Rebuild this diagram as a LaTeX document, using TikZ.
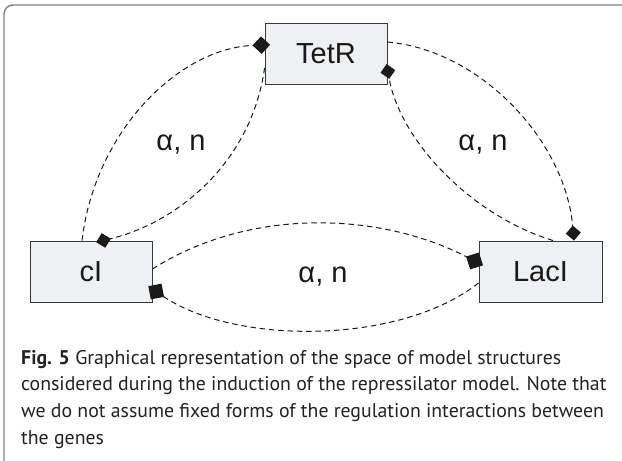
\documentclass[tikz,border=0pt]{standalone}
\usepackage{fontspec}
\setmainfont{Liberation Sans}
\newfontfamily\capfont{PT Sans}
\usetikzlibrary{arrows.meta}
\definecolor{boxfill}{HTML}{EFF0F2}
\definecolor{boxline}{HTML}{3A3A3A}
\definecolor{framecol}{HTML}{7F7F7F}
\definecolor{linecol}{HTML}{1A1A1A}
\definecolor{captext}{HTML}{222222}
\tikzset{
  gene/.style={draw=boxline, fill=boxfill, line width=0.9pt, minimum height=61pt, inner sep=0pt, font=\fontsize{29}{31}\selectfont, text=black!90},
  param/.style={font=\fontsize{29}{31}\selectfont, text=black!90, inner sep=0pt},
  rep/.style={draw=linecol, line width=1pt, dash pattern=on 5.5pt off 3.8pt},
  tipA/.style={-{Diamond[length=15pt,width=15pt]}},
  tipB/.style={-{Diamond[length=17.5pt,width=17.5pt]}},
  tipC/.style={-{Diamond[length=19pt,width=19pt]}}
}
\tikzset{
  capline/.style={anchor=base west, inner sep=0pt, text=captext, font=\capfont\fontsize{19.8}{26}\selectfont}
}
\begin{document}
\begin{tikzpicture}[x=1pt,y=-1pt]
\useasboundingbox (0,0) rectangle (622,461);
\clip (0,0) rectangle (622,461);
% frame
\draw[framecol, line width=1.4pt, rounded corners=9pt] (4,480) -- (4,5) -- (650,5);
% genes
\node[gene, minimum width=122pt] (tetr) at (326,53.5) {TetR};
\node[gene, minimum width=122pt] (ci) at (91,271.5) {cI};
\node[gene, minimum width=123pt] (laci) at (540.5,271.5) {LacI};
% connectors
\draw[rep, tipB, shorten >=-5.5pt] ([xshift=-9pt]ci.north) .. controls (95,130) and (180,48) .. ([yshift=8.5pt]tetr.west);
\draw[rep, tipA, shorten >=-7pt] ([yshift=-14.5pt]tetr.west) .. controls (252,160) and (180,222) .. ([xshift=12pt]ci.north);
\draw[rep, tipA] ([yshift=11.5pt]tetr.east) .. controls (480,50) and (565,140) .. ([xshift=33.5pt]laci.north);
\draw[rep, tipA, shorten >=-5pt] ([xshift=12.5pt]laci.north) .. controls (470,215) and (400,140) .. ([yshift=-15.5pt]tetr.east);
\draw[rep, tipC, shorten >=-5pt] ([yshift=2.5pt]ci.east) .. controls (250,207) and (380,212) .. ([yshift=8.5pt]laci.west);
\draw[rep, tipC, shorten >=-5pt] ([yshift=-11.5pt]laci.west) .. controls (400,345) and (235,345) .. ([yshift=-17.5pt]ci.east);
% labels
\node[param] (p1) at (181,145) {α, n};
\node[param] (p2) at (483,145) {α, n};
\node[param] (p3) at (323,277) {α, n};
% caption
\node[capline] (c1) at (21,364) {\textbf{Fig. 5} Graphical representation of the space of model structures};
\node[capline] (c2) at (21,390.7) {considered during the induction of the repressilator model. Note that};
\node[capline] (c3) at (21,417.4) {we do not assume fixed forms of the regulation interactions between};
\node[capline] (c4) at (21,444) {the genes};
\end{tikzpicture}
\end{document}
